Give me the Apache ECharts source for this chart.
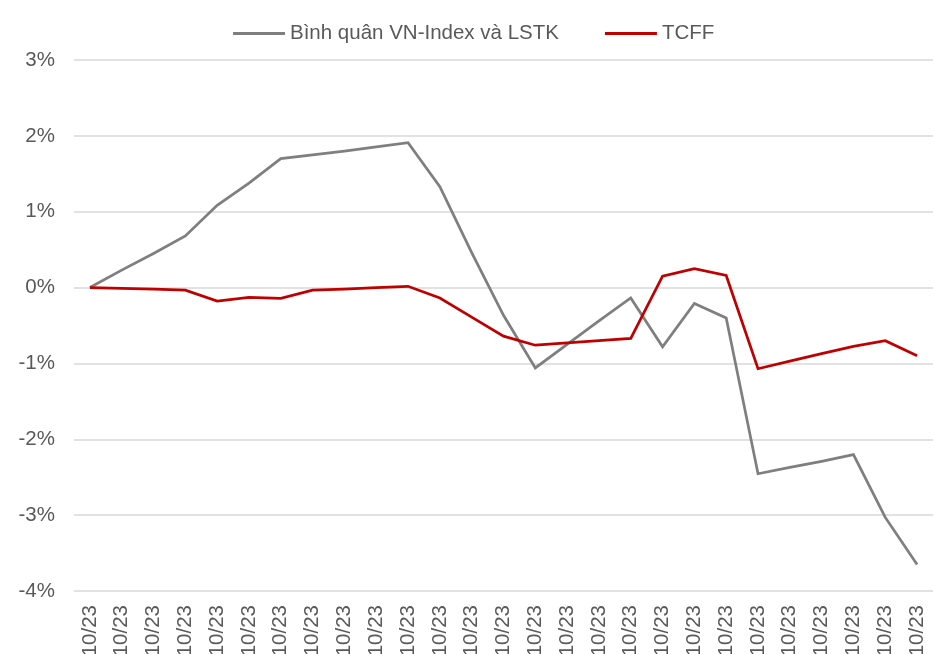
<!DOCTYPE html>
<html>
<head>
<meta charset="utf-8">
<script src="https://cdn.jsdelivr.net/npm/echarts@6/dist/echarts.min.js"></script>
<style>
  html, body { margin: 0; padding: 0; background: #fff; }
  #chart { width: 934px; height: 654px; }
</style>
</head>
<body>
<div id="chart"></div>
<script>
const categories = Array.from({ length: 27 }, () => '10/23')
const seriesNames = ['Bình quân VN-Index và LSTK', 'TCFF']
const marketAvg = [0, 0.23, 0.45, 0.68, 1.085, 1.376, 1.70, 1.75, 1.80, 1.855, 1.91, 1.33, 0.46, -0.365, -1.06, -0.75, -0.44, -0.137, -0.78, -0.21, -0.40, -2.454, -2.37, -2.29, -2.203, -3.03, -3.65]
const tcff = [0, -0.01, -0.02, -0.035, -0.177, -0.128, -0.141, -0.035, -0.02, 0.0, 0.017, -0.137, -0.39, -0.64, -0.76, -0.73, -0.70, -0.67, 0.15, 0.25, 0.16, -1.07, -0.97, -0.87, -0.775, -0.70, -0.90]
const yTicks = { min: -4, max: 3, interval: 1 }

const textColor = '#595959'
const font = 'Liberation Sans, Arial, sans-serif'

const chart = echarts.init(document.getElementById('chart'), null, { renderer: 'canvas' })

chart.setOption({
  animation: false,
  backgroundColor: '#fff',
  textStyle: { fontFamily: font },
  legend: {
    top: 18,
    left: 228,
    icon: 'rect',
    itemWidth: 52,
    itemHeight: 3,
    itemGap: 46,
    textStyle: { color: textColor, fontSize: 20.5, fontFamily: font },
    data: seriesNames
  },
  grid: { left: 74, right: 1, top: 60, bottom: 63, outerBoundsMode: 'none', containLabel: false },
  xAxis: {
    type: 'category',
    data: categories,
    boundaryGap: true,
    axisLine: { show: false },
    axisTick: { show: false },
    axisLabel: {
      interval: 0,
      rotate: 90,
      margin: 14,
      color: textColor,
      fontSize: 20.5,
      fontFamily: font
    }
  },
  yAxis: {
    type: 'value',
    min: yTicks.min,
    max: yTicks.max,
    interval: yTicks.interval,
    axisLine: { show: false },
    axisTick: { show: false },
    axisLabel: {
      formatter: '{value}%',
      margin: 19,
      color: textColor,
      fontSize: 20.5,
      fontFamily: font
    },
    splitLine: { lineStyle: { color: '#d9d9d9', width: 1.5 } }
  },
  series: [
    {
      name: seriesNames[0],
      type: 'line',
      data: marketAvg,
      symbol: 'none',
      itemStyle: { color: '#7f7f7f' },
      lineStyle: { color: '#7f7f7f', width: 2.75, join: 'miter' }
    },
    {
      name: seriesNames[1],
      type: 'line',
      data: tcff,
      symbol: 'none',
      itemStyle: { color: '#c00000' },
      lineStyle: { color: '#c00000', width: 2.75, join: 'miter' }
    }
  ]
})
</script>
</body>
</html>
